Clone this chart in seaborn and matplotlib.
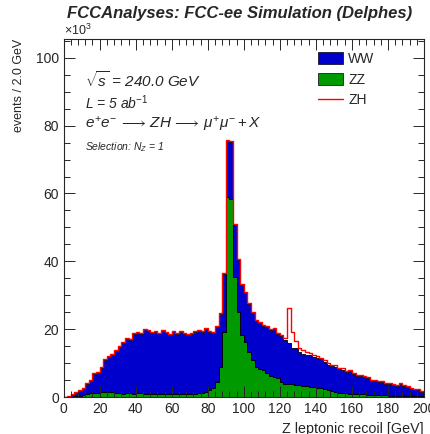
import numpy as np
import pandas as pd
import seaborn as sns
import matplotlib.pyplot as plt
from matplotlib.patches import Patch
from matplotlib.lines import Line2D
from matplotlib.ticker import MultipleLocator

# Z leptonic recoil, 2 GeV bins from 0 to 200 GeV, events in thousands
bin_centers = list(range(1, 200, 2))
ww = [0.1, 0.25, 0.7, 1.1, 1.8, 2.0, 3.1, 3.7, 5.6, 6.0,
      7.1, 9.5, 10.3, 11.2, 12.3, 13.6, 15.0, 16.0, 15.7, 17.6,
      18.0, 17.5, 19.0, 18.6, 18.1, 18.4, 17.9, 18.8, 18.2, 17.7,
      18.6, 17.9, 18.4, 17.9, 17.7, 17.8, 18.2, 18.4, 17.9, 18.6,
      17.2, 16.2, 16.2, 15.6, 17.0, 16.7, 16.6, 15.2, 15.3, 15.0,
      14.4, 14.2, 13.9, 13.6, 13.6, 13.0, 13.7, 13.4, 14.2, 13.0,
      13.4, 12.8, 11.9, 10.8, 10.9, 9.9, 9.3, 9.2, 9.4, 8.9,
      8.6, 8.4, 7.9, 7.5, 7.4, 7.5, 6.9, 6.9, 6.3, 6.7,
      6.0, 5.3, 5.4, 5.2, 4.8, 4.2, 4.2, 4.0, 3.9, 3.5,
      3.6, 3.1, 2.9, 3.4, 3.0, 2.7, 2.2, 2.0, 1.9, 1.4]
zz = [0.0, 0.05, 0.1, 0.2, 0.3, 0.5, 0.9, 1.1, 1.2, 1.3,
      1.5, 1.5, 1.5, 1.4, 1.3, 1.2, 1.0, 1.3, 1.1, 1.0,
      1.1, 1.1, 1.0, 0.9, 0.9, 0.8, 0.9, 0.8, 0.8, 0.8,
      0.8, 0.8, 0.8, 0.8, 0.8, 0.9, 1.0, 1.1, 1.3, 1.6,
      2.0, 2.8, 4.5, 9.0, 19.2, 58.9, 58.5, 35.4, 25.0, 18.2,
      16.3, 13.3, 10.9, 9.0, 8.4, 8.0, 7.0, 6.3, 6.0, 5.5,
      4.5, 4.0, 3.9, 3.8, 3.6, 3.5, 3.3, 3.2, 3.0, 3.0,
      2.8, 2.7, 2.5, 2.0, 1.7, 1.4, 1.3, 1.2, 1.1, 1.0,
      0.9, 0.9, 0.8, 0.8, 0.7, 0.6, 0.6, 0.5, 0.5, 0.5,
      0.4, 0.4, 0.4, 0.4, 0.3, 0.3, 0.3, 0.3, 0.2, 0.2]
zh = [0.05, 0.05, 0.1, 0.1, 0.1, 0.15, 0.15, 0.2, 0.2, 0.2,
      0.2, 0.2, 0.2, 0.2, 0.2, 0.2, 0.2, 0.2, 0.2, 0.2,
      0.2, 0.2, 0.2, 0.2, 0.2, 0.2, 0.2, 0.2, 0.2, 0.2,
      0.2, 0.2, 0.2, 0.2, 0.2, 0.2, 0.2, 0.2, 0.2, 0.2,
      0.2, 0.2, 0.25, 0.25, 0.3, 0.3, 0.3, 0.3, 0.25, 0.25,
      0.25, 0.25, 0.25, 0.25, 0.25, 0.25, 0.25, 0.25, 0.25, 0.25,
      0.3, 0.6, 10.5, 4.6, 2.0, 1.2, 1.3, 0.8, 0.7, 0.6,
      0.6, 0.5, 0.5, 0.5, 0.5, 0.45, 0.45, 0.4, 0.4, 0.4,
      0.35, 0.35, 0.35, 0.35, 0.35, 0.3, 0.3, 0.3, 0.3, 0.3,
      0.3, 0.3, 0.25, 0.25, 0.25, 0.25, 0.2, 0.2, 0.2, 0.2]

df = pd.DataFrame({
    'recoil': bin_centers * 3,
    'events': ww + zz + zh,
    'process': ['WW'] * 100 + ['ZZ'] * 100 + ['ZH'] * 100,
})

colors = {'WW': '#0000cc', 'ZZ': '#009900', 'ZH': '#ff0000'}

sns.set_theme(style='ticks')
plt.rcParams['font.family'] = ['Liberation Sans', 'DejaVu Sans']
plt.rcParams['mathtext.fontset'] = 'custom'
plt.rcParams['mathtext.rm'] = 'Liberation Sans'
plt.rcParams['mathtext.it'] = 'Liberation Sans:italic'
plt.rcParams['mathtext.bf'] = 'Liberation Sans:bold'

fig = plt.figure(figsize=(4.30, 4.34), dpi=100)
ax = fig.add_axes([0.148, 0.085, 0.838, 0.825])

# stacked backgrounds (ZZ at the bottom, WW on top of it)
bkg = df[df['process'] != 'ZH']
sns.histplot(data=bkg, x='recoil', weights='events', hue='process',
             hue_order=['WW', 'ZZ'], multiple='stack', binwidth=2, binrange=(0, 200),
             element='step', palette=colors, alpha=1, edgecolor='black',
             linewidth=0.6, legend=False, ax=ax)
# ZH stacked on top, drawn as outline only
sns.histplot(data=df, x='recoil', weights='events', binwidth=2, binrange=(0, 200),
             element='step', fill=False, color=colors['ZH'], linewidth=1.0, ax=ax)

ax.set_xlim(0, 200)
ax.set_ylim(0, 105.5)
ax.xaxis.set_major_locator(MultipleLocator(20))
ax.xaxis.set_minor_locator(MultipleLocator(4))
ax.yaxis.set_major_locator(MultipleLocator(20))
ax.yaxis.set_minor_locator(MultipleLocator(5))
ax.tick_params(which='both', direction='in', top=True, right=True, labelsize=10, width=0.7)
ax.tick_params(which='major', length=8)
ax.tick_params(which='minor', length=4)
ax.set_axisbelow(False)
for s in ax.spines.values():
    s.set_linewidth(0.8)

ax.set_xlabel('Z leptonic recoil [GeV]', loc='right', fontsize=10.3)
ax.set_ylabel('events / 2.0 GeV', loc='top', fontsize=9, labelpad=8)
ax.text(0, 1.003, r'$\times10^{3}$', transform=ax.transAxes, fontsize=9, va='bottom')

fig.text(0.558, 0.968, 'FCCAnalyses: FCC-ee Simulation (Delphes)', ha='center', va='center',
         fontsize=12, fontweight='bold', style='italic')

ax.text(0.06, 0.885, r'$\sqrt{s}$ = 240.0 GeV', transform=ax.transAxes, fontsize=11,
        style='italic', va='center')
ax.text(0.06, 0.821, r'L = 5 ab$^{-1}$', transform=ax.transAxes, fontsize=10,
        style='italic', va='center')
ax.text(0.06, 0.760, r'$e^{+}e^{-}\,\longrightarrow\,ZH\,\longrightarrow\,\mu^{+}\mu^{-} + X$',
        transform=ax.transAxes, fontsize=11, va='center')
ax.text(0.06, 0.698, r'Selection: $N_{Z}$ = 1', transform=ax.transAxes, fontsize=7.5,
        style='italic', va='center')

handles = [Patch(facecolor=colors['WW'], edgecolor='black', linewidth=0.5, label='WW'),
           Patch(facecolor=colors['ZZ'], edgecolor='black', linewidth=0.5, label='ZZ'),
           Line2D([], [], color=colors['ZH'], linewidth=1.0, label='ZH')]
ax.legend(handles=handles, loc='upper left', bbox_to_anchor=(0.67, 1.0), frameon=False,
          fontsize=10, handlelength=1.8, handleheight=1.0, labelspacing=0.5, handletextpad=0.4)

fig.savefig('out.png', dpi=100)
